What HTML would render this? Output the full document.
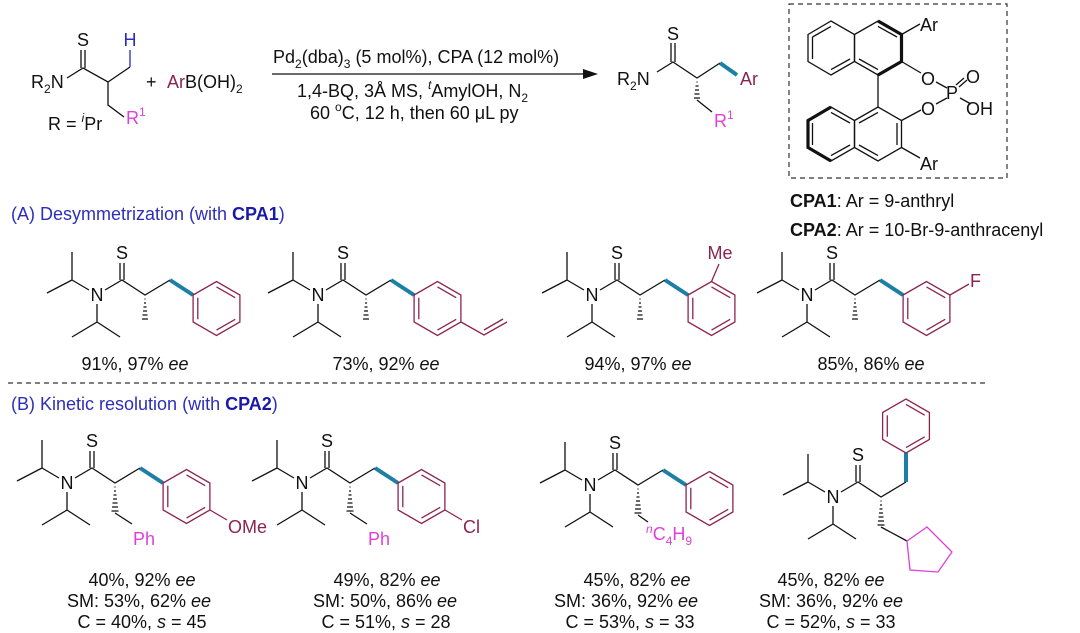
<!DOCTYPE html>
<html><head><meta charset="utf-8"><style>
html,body{margin:0;padding:0;background:#fff}
svg{display:block}
text{font-family:"Liberation Sans",Arial,sans-serif;font-size:18px;fill:#111}
.b{stroke:#111;stroke-width:1.3;fill:none}
.m{stroke:#8b2550;stroke-width:1.3;fill:none}
.bl{stroke:#1c7fa6;stroke-width:4;fill:none}
.pk{stroke:#e040d8;stroke-width:1.3;fill:none}
</style></head><body>
<svg width="1080" height="633" viewBox="0 0 1080 633" xmlns="http://www.w3.org/2000/svg">

<!-- ===== Top reaction ===== -->
<text x="31" y="88">R<tspan font-size="12" dy="5">2</tspan><tspan dy="-5">N</tspan></text>
<path class="b" d="M67,78 L83,68 L108,82 L130,67 M81,68 L81,50 M85,68 L85,50 M108,82 L108,105 L124,117"/>
<path d="M130,67 L130,50" stroke="#2b2bc0" stroke-width="1.3"/>
<text x="83" y="46" text-anchor="middle">S</text>
<text x="130" y="46" text-anchor="middle" style="fill:#2b2bc0">H</text>
<text x="126" y="124" style="fill:#e040d8">R<tspan font-size="12" dy="-8">1</tspan></text>
<text x="48" y="130">R = <tspan font-size="12" font-style="italic" dy="-8">i</tspan><tspan dy="8">Pr</tspan></text>
<text x="146" y="88">+</text>
<text x="167" y="88"><tspan style="fill:#8b2550">Ar</tspan>B(OH)<tspan font-size="12" dy="5">2</tspan></text>

<!-- arrow -->
<line x1="272" y1="74" x2="588" y2="74" stroke="#111" stroke-width="1.3"/>
<polygon points="598,74 583,69 583,79" fill="#111"/>
<text x="273" y="63">Pd<tspan font-size="12" dy="5">2</tspan><tspan dy="-5">(dba)</tspan><tspan font-size="12" dy="5">3</tspan><tspan dy="-5"> (5 mol%), CPA (12 mol%)</tspan></text>
<text x="297" y="97">1,4-BQ, 3Å MS, <tspan font-size="12" font-style="italic" dy="-8">t</tspan><tspan dy="8">AmylOH, N</tspan><tspan font-size="12" dy="5">2</tspan></text>
<text x="310" y="119">60 <tspan font-size="12" dy="-8">o</tspan><tspan dy="8">C, 12 h, then 60 μL py</tspan></text>

<!-- product -->
<text x="617" y="85">R<tspan font-size="12" dy="5">2</tspan><tspan dy="-5">N</tspan></text>
<path class="b" d="M657,72 L673,62 L697,78 L720,63 M671,62 L671,43 M675,62 L675,43 M697,100 L712,112"/>
<path class="b" d="M696.5,82h1 M695.5,86h3 M695,90h4 M694.5,94h5 M694,98h6"/>
<path class="bl" d="M720,63 L737,75"/>
<text x="673" y="40" text-anchor="middle">S</text>
<text x="740" y="85" style="fill:#8b2550">Ar</text>
<text x="714" y="127" style="fill:#e040d8">R<tspan font-size="12" dy="-8">1</tspan></text>

<!-- CPA box -->
<rect x="789" y="4" width="218" height="174" fill="none" stroke="#333" stroke-width="1.2" stroke-dasharray="5,4"/>
<g class="b">
 <polygon points="808,34.5 831,21 854.5,34.5 854.5,61.5 831,75 808,61.5"/>
 <polygon points="854.5,34.5 878,21 901.5,34.5 901.5,61.5 878,75 854.5,61.5"/>
 <path d="M812.5,37 L831,26.4 M812.5,59 L812.5,37 M831,69.6 L850,59 M859,59 L878,69.6 M878,26.4 L897,37"/>
 <polygon points="808,120.5 831,107 854.5,120.5 854.5,147.5 831,161 808,147.5"/>
 <polygon points="854.5,120.5 878,107 901.5,120.5 901.5,147.5 878,161 854.5,147.5"/>
 <path d="M812.5,145 L812.5,123 M831,112.4 L850,123 M831,155.6 L850,145 M859,123 L878,112.4 M897,123 L897,145 M859,145 L878,155.6"/>
 <path d="M878,75 L878,107"/>
 <path d="M901.5,34.5 L920,24 M901.5,61.5 L921,73 M901.5,120.5 L921,110 M901.5,147.5 L920,158"/>
 <path d="M936,82 L947,88 M936,104 L947,98 M959,87 L967,80 M956,85 L964,78 M960,98 L971,104"/>
</g>
<path d="M878,21 L901.5,34.5 L901.5,61.5 L878,75" stroke="#111" stroke-width="3.2" fill="none"/>
<path d="M831,107 L808,120.5 L808,147.5 L831,161" stroke="#111" stroke-width="3.2" fill="none"/>
<text x="920" y="31">Ar</text>
<text x="920" y="170">Ar</text>
<text x="921" y="85">O</text>
<text x="921" y="115">O</text>
<text x="946" y="99">P</text>
<text x="966" y="83">O</text>
<text x="966" y="115">OH</text>
<text x="790" y="207" font-size="19.5"><tspan font-weight="bold">CPA1</tspan>: Ar = 9-anthryl</text>
<text x="790" y="236" font-size="19.5"><tspan font-weight="bold">CPA2</tspan>: Ar = 10-Br-9-anthracenyl</text>

<!-- section A header -->
<text x="11" y="220" style="fill:#2e2eb8">(A) Desymmetrization (with <tspan font-weight="bold" style="fill:#1a1aa8">CPA1</tspan>)</text>

<!-- ===== A1 ===== -->
<g transform="translate(97,295)">
 <path class="b" d="M-25,-15 L-25,-43 M-25,-15 L-50,-2 M-25,-15 L-8,-5 M0,9 L0,27 L-25,42 M0,27 L23,42 M8,-5 L25,-15 L48,0 L73,-15 M23,-15 L23,-32 M27,-15 L27,-32"/>
 <path class="b" d="M47.5,4h1 M47,8h2 M46.5,12h3 M46,16h4 M45.5,20h5 M45,24h6"/>
 <path class="bl" d="M73,-15 L96,0"/>
 <text x="0" y="6" text-anchor="middle">N</text><text x="25" y="-36" text-anchor="middle">S</text>
 <g class="m" transform="translate(119.5,13.5)"><polygon points="-23.4,-13.5 0,-27 23.4,-13.5 23.4,13.5 0,27 -23.4,13.5"/><path d="M0,-21.6 L18.7,-10.8 M18.7,10.8 L0,21.6 M-18.7,10.8 L-18.7,-10.8"/></g>
</g>
<text x="135" y="370" text-anchor="middle">91%, 97% <tspan font-style="italic">ee</tspan></text>

<!-- ===== A2 ===== -->
<g transform="translate(318,295)">
 <path class="b" d="M-25,-15 L-25,-43 M-25,-15 L-50,-2 M-25,-15 L-8,-5 M0,9 L0,27 L-25,42 M0,27 L23,42 M8,-5 L25,-15 L48,0 L73,-15 M23,-15 L23,-32 M27,-15 L27,-32"/>
 <path class="b" d="M47.5,4h1 M47,8h2 M46.5,12h3 M46,16h4 M45.5,20h5 M45,24h6"/>
 <path class="bl" d="M73,-15 L96,0"/>
 <text x="0" y="6" text-anchor="middle">N</text><text x="25" y="-36" text-anchor="middle">S</text>
 <g class="m" transform="translate(119.5,13.5)"><polygon points="-23.4,-13.5 0,-27 23.4,-13.5 23.4,13.5 0,27 -23.4,13.5"/><path d="M0,-21.6 L18.7,-10.8 M18.7,10.8 L0,21.6 M-18.7,10.8 L-18.7,-10.8"/></g>
 <path class="m" d="M143,27 L166,40 L189,27 M166,35 L185,24"/>
</g>
<text x="386" y="370" text-anchor="middle">73%, 92% <tspan font-style="italic">ee</tspan></text>

<!-- ===== A3 ===== -->
<g transform="translate(592,295)">
 <path class="b" d="M-25,-15 L-25,-43 M-25,-15 L-50,-2 M-25,-15 L-8,-5 M0,9 L0,27 L-25,42 M0,27 L23,42 M8,-5 L25,-15 L48,0 L73,-15 M23,-15 L23,-32 M27,-15 L27,-32"/>
 <path class="b" d="M47.5,4h1 M47,8h2 M46.5,12h3 M46,16h4 M45.5,20h5 M45,24h6"/>
 <path class="bl" d="M73,-15 L96,0"/>
 <text x="0" y="6" text-anchor="middle">N</text><text x="25" y="-36" text-anchor="middle">S</text>
 <g class="m" transform="translate(119.5,13.5)"><polygon points="-23.4,-13.5 0,-27 23.4,-13.5 23.4,13.5 0,27 -23.4,13.5"/><path d="M0,-21.6 L18.7,-10.8 M18.7,10.8 L0,21.6 M-18.7,10.8 L-18.7,-10.8"/></g>
 <path class="m" d="M119.5,-13.5 L127,-31"/>
 <text x="128" y="-36" text-anchor="middle" style="fill:#8b2550">Me</text>
</g>
<text x="638" y="370" text-anchor="middle">94%, 97% <tspan font-style="italic">ee</tspan></text>

<!-- ===== A4 ===== -->
<g transform="translate(807,295)">
 <path class="b" d="M-25,-15 L-25,-43 M-25,-15 L-50,-2 M-25,-15 L-8,-5 M0,9 L0,27 L-25,42 M0,27 L23,42 M8,-5 L25,-15 L48,0 L73,-15 M23,-15 L23,-32 M27,-15 L27,-32"/>
 <path class="b" d="M47.5,4h1 M47,8h2 M46.5,12h3 M46,16h4 M45.5,20h5 M45,24h6"/>
 <path class="bl" d="M73,-15 L96,0"/>
 <text x="0" y="6" text-anchor="middle">N</text><text x="25" y="-36" text-anchor="middle">S</text>
 <g class="m" transform="translate(119.5,13.5)"><polygon points="-23.4,-13.5 0,-27 23.4,-13.5 23.4,13.5 0,27 -23.4,13.5"/><path d="M0,-21.6 L18.7,-10.8 M18.7,10.8 L0,21.6 M-18.7,10.8 L-18.7,-10.8"/></g>
 <path class="m" d="M143,0 L162,-11"/>
 <text x="163" y="-8" style="fill:#8b2550">F</text>
</g>
<text x="871" y="370" text-anchor="middle">85%, 86% <tspan font-style="italic">ee</tspan></text>

<!-- separator -->
<line x1="8" y1="383" x2="988" y2="383" stroke="#333" stroke-width="1.2" stroke-dasharray="5,4"/>
<text x="11" y="410" style="fill:#2e2eb8">(B) Kinetic resolution (with <tspan font-weight="bold" style="fill:#1a1aa8">CPA2</tspan>)</text>

<!-- ===== B1 ===== -->
<g transform="translate(67,483)">
 <path class="b" d="M-25,-15 L-25,-43 M-25,-15 L-50,-2 M-25,-15 L-8,-5 M0,9 L0,27 L-25,42 M0,27 L23,42 M8,-5 L25,-15 L48,0 L73,-15 M23,-15 L23,-32 M27,-15 L27,-32"/>
 <path class="b" d="M47.5,4h1 M47,8h2 M46.5,12h3 M46,16h4 M45.5,20h5 M45,24h6 M44.5,28h7"/>
 <path class="b" d="M48,30 L65,41"/>
 <path class="bl" d="M73,-15 L96,0"/>
 <text x="0" y="6" text-anchor="middle">N</text><text x="25" y="-36" text-anchor="middle">S</text>
 <text x="66" y="62" style="fill:#e040d8">Ph</text>
 <g class="m" transform="translate(119.5,13.5)"><polygon points="-23.4,-13.5 0,-27 23.4,-13.5 23.4,13.5 0,27 -23.4,13.5"/><path d="M0,-21.6 L18.7,-10.8 M18.7,10.8 L0,21.6 M-18.7,10.8 L-18.7,-10.8"/></g>
 <path class="m" d="M143,27 L160,37"/>
 <text x="161" y="50" style="fill:#8b2550">OMe</text>
</g>
<g text-anchor="middle">
<text x="142" y="586">40%, 92% <tspan font-style="italic">ee</tspan></text>
<text x="139" y="607">SM: 53%, 62% <tspan font-style="italic">ee</tspan></text>
<text x="142" y="628">C = 40%, <tspan font-style="italic">s</tspan> = 45</text>
</g>

<!-- ===== B2 ===== -->
<g transform="translate(302,483)">
 <path class="b" d="M-25,-15 L-25,-43 M-25,-15 L-50,-2 M-25,-15 L-8,-5 M0,9 L0,27 L-25,42 M0,27 L23,42 M8,-5 L25,-15 L48,0 L73,-15 M23,-15 L23,-32 M27,-15 L27,-32"/>
 <path class="b" d="M47.5,4h1 M47,8h2 M46.5,12h3 M46,16h4 M45.5,20h5 M45,24h6 M44.5,28h7"/>
 <path class="b" d="M48,30 L65,41"/>
 <path class="bl" d="M73,-15 L96,0"/>
 <text x="0" y="6" text-anchor="middle">N</text><text x="25" y="-36" text-anchor="middle">S</text>
 <text x="66" y="62" style="fill:#e040d8">Ph</text>
 <g class="m" transform="translate(119.5,13.5)"><polygon points="-23.4,-13.5 0,-27 23.4,-13.5 23.4,13.5 0,27 -23.4,13.5"/><path d="M0,-21.6 L18.7,-10.8 M18.7,10.8 L0,21.6 M-18.7,10.8 L-18.7,-10.8"/></g>
 <path class="m" d="M143,27 L160,37"/>
 <text x="161" y="50" style="fill:#8b2550">Cl</text>
</g>
<g text-anchor="middle">
<text x="387" y="586">49%, 82% <tspan font-style="italic">ee</tspan></text>
<text x="385" y="607">SM: 50%, 86% <tspan font-style="italic">ee</tspan></text>
<text x="386" y="628">C = 51%, <tspan font-style="italic">s</tspan> = 28</text>
</g>

<!-- ===== B3 ===== -->
<g transform="translate(590,485)">
 <path class="b" d="M-25,-15 L-25,-43 M-25,-15 L-50,-2 M-25,-15 L-8,-5 M0,9 L0,27 L-25,42 M0,27 L23,42 M8,-5 L25,-15 L48,0 L73,-15 M23,-15 L23,-32 M27,-15 L27,-32"/>
 <path class="b" d="M47.5,4h1 M47,8h2 M46.5,12h3 M46,16h4 M45.5,20h5 M45,24h6 M44.5,28h7"/>
 <path class="b" d="M48,30 L58,37"/>
 <path class="bl" d="M73,-15 L96,0"/>
 <text x="0" y="6" text-anchor="middle">N</text><text x="25" y="-36" text-anchor="middle">S</text>
 <text x="56" y="55" style="fill:#e040d8"><tspan font-size="12" font-style="italic" dy="-7">n</tspan><tspan dy="7">C</tspan><tspan font-size="12" dy="5">4</tspan><tspan dy="-5">H</tspan><tspan font-size="12" dy="5">9</tspan></text>
 <g class="m" transform="translate(119.5,13.5)"><polygon points="-23.4,-13.5 0,-27 23.4,-13.5 23.4,13.5 0,27 -23.4,13.5"/><path d="M0,-21.6 L18.7,-10.8 M18.7,10.8 L0,21.6 M-18.7,10.8 L-18.7,-10.8"/></g>
</g>
<g text-anchor="middle">
<text x="637" y="586">45%, 82% <tspan font-style="italic">ee</tspan></text>
<text x="626" y="607">SM: 36%, 92% <tspan font-style="italic">ee</tspan></text>
<text x="630" y="628">C = 53%, <tspan font-style="italic">s</tspan> = 33</text>
</g>

<!-- ===== B4 ===== -->
<g transform="translate(833,497)">
 <path class="b" d="M-25,-15 L-25,-43 M-25,-15 L-50,-2 M-25,-15 L-8,-5 M0,9 L0,27 L-25,42 M0,27 L23,42 M8,-5 L25,-15 L48,0 L73,-15 M23,-15 L23,-32 M27,-15 L27,-32"/>
 <path class="b" d="M47.5,4h1 M47,8h2 M46.5,12h3 M46,16h4 M45.5,20h5 M45,24h6 M44.5,28h7"/>
 <path class="b" d="M48,30 L74,44"/>
 <path class="bl" d="M73,-15 L73,-44"/>
 <text x="0" y="6" text-anchor="middle">N</text><text x="25" y="-36" text-anchor="middle">S</text>
 <g class="m" transform="translate(73,-71)"><polygon points="-23.4,-13.5 0,-27 23.4,-13.5 23.4,13.5 0,27 -23.4,13.5"/><path d="M0,-21.6 L18.7,-10.8 M18.7,10.8 L0,21.6 M-18.7,10.8 L-18.7,-10.8"/></g>
 <polygon class="pk" points="74,44 94,30 119,55 105,75 77,73"/>
</g>
<g text-anchor="middle">
<text x="831" y="586">45%, 82% <tspan font-style="italic">ee</tspan></text>
<text x="831" y="607">SM: 36%, 92% <tspan font-style="italic">ee</tspan></text>
<text x="831" y="628">C = 52%, <tspan font-style="italic">s</tspan> = 33</text>
</g>
</svg>
</body></html>
